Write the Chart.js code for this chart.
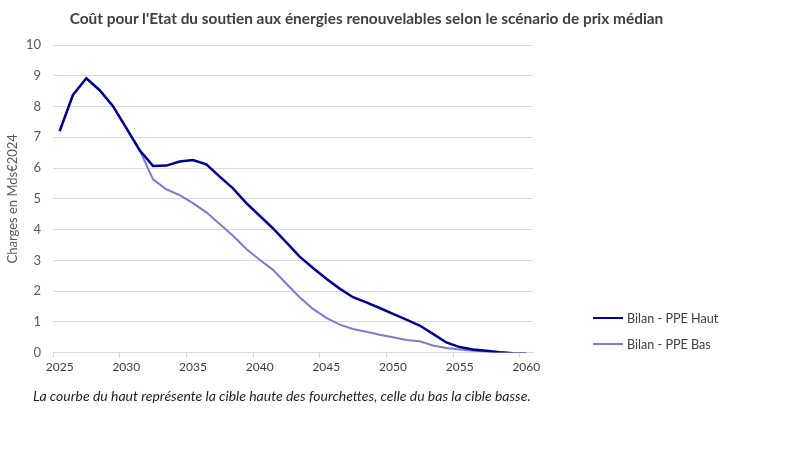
<!DOCTYPE html>
<html lang="fr">
<head>
<meta charset="utf-8">
<title>Coût du soutien aux énergies renouvelables</title>
<script src="https://cdn.jsdelivr.net/npm/chart.js@4.4.1/dist/chart.umd.min.js"></script>
<style>
  body { margin: 0; background: #fff; font-family: Lato, "Open Sans", sans-serif; }
  #cadre { position: relative; width: 800px; height: 450px; }
  #graphique { position: absolute; left: 0; top: 0; }
  #titre {
    position: absolute; left: 0; top: 9px; width: 733px; text-align: center;
    font-weight: bold; font-size: 15.4px; color: #404040;
  }
  #legende { position: absolute; left: 593px; top: 305px; margin: 0; padding: 0; list-style: none; }
  #legende li { height: 26px; display: flex; align-items: center; font-size: 12.6px; color: #404040; }
  #legende span.trait { display: inline-block; width: 30px; margin-right: 4px; }
  #note {
    position: absolute; left: 33px; top: 387px; font-style: italic;
    font-size: 14px; color: #1e1e1e;
  }
</style>
</head>
<body>
<div id="cadre">
  <canvas id="graphique" width="800" height="450"></canvas>
  <div id="titre">Coût pour l'Etat du soutien aux énergies renouvelables selon le scénario de prix médian</div>
  <ul id="legende"></ul>
  <div id="note">La courbe du haut représente la cible haute des fourchettes, celle du bas la cible basse.</div>
</div>
<script>
  // Années (axe des x)
  const annees = ['2025', '2026', '2027', '2028', '2029', '2030', '2031', '2032', '2033', '2034',
    '2035', '2036', '2037', '2038', '2039', '2040', '2041', '2042', '2043', '2044',
    '2045', '2046', '2047', '2048', '2049', '2050', '2051', '2052', '2053', '2054',
    '2055', '2056', '2057', '2058', '2059', '2060'];

  // Charges en Mds€2024
  const ppeHaut = [7.2, 8.38, 8.92, 8.53, 8.01, 7.3, 6.58, 6.07, 6.08, 6.21,
    6.26, 6.12, 5.72, 5.34, 4.86, 4.45, 4.04, 3.58, 3.12, 2.75,
    2.4, 2.08, 1.8, 1.63, 1.45, 1.26, 1.07, 0.88, 0.61, 0.33,
    0.18, 0.1, 0.06, 0.01, -0.02, -0.03];
  const ppeBas = [7.2, 8.38, 8.92, 8.53, 8.01, 7.3, 6.58, 5.63, 5.31, 5.12,
    4.86, 4.56, 4.18, 3.8, 3.37, 3.02, 2.69, 2.24, 1.8, 1.42,
    1.13, 0.91, 0.77, 0.68, 0.58, 0.5, 0.41, 0.37, 0.23, 0.15,
    0.1, 0.06, 0.03, 0.01, -0.02, -0.03];

  const ticksY = [0, 1, 2, 3, 4, 5, 6, 7, 8, 9, 10];

  const gris = '#d9d9d9';
  const police = "Lato, 'Open Sans', sans-serif";

  const ctx = document.getElementById('graphique').getContext('2d');
  const graphique = new Chart(ctx, {
    type: 'line',
    data: {
      labels: annees,
      datasets: [{
        label: 'Bilan - PPE Haut',
        data: ppeHaut,
        borderColor: '#000091',
        borderWidth: 2.5,
        pointRadius: 0,
        tension: 0
      }, {
        label: 'Bilan - PPE Bas',
        data: ppeBas,
        borderColor: '#7b7bcf',
        borderWidth: 2,
        pointRadius: 0,
        tension: 0
      }]
    },
    options: {
      responsive: false,
      animation: false,
      layout: {
        padding: { left: 5, right: 267, top: 45, bottom: 74 }
      },
      scales: {
        x: {
          offset: true,
          border: { display: true, color: gris },
          grid: {
            offset: true,
            drawOnChartArea: false,
            tickLength: 5,
            color: (c) => (c.index !== undefined && c.index % 5 === 0) ? gris : 'rgba(0,0,0,0)'
          },
          ticks: {
            autoSkip: false,
            maxRotation: 0,
            padding: 2,
            color: '#404040',
            font: { family: police, size: 12 },
            callback: function(val, i) {
              const a = annees[i];
              return Number(a) % 5 === 0 ? a : '';
            }
          }
        },
        y: {
          min: 0,
          max: 10,
          afterBuildTicks: (s) => { s.ticks = ticksY.map(v => ({ value: v })); },
          afterFit: (s) => { s.width = 48; },
          border: { display: false },
          grid: { color: gris, drawTicks: false },
          ticks: {
            padding: 12,
            color: '#595959',
            font: { family: police, size: 13 }
          },
          title: {
            display: true,
            text: 'Charges en Mds€2024',
            color: '#595959',
            font: { family: police, size: 13 },
            padding: { top: 0, bottom: 4 }
          }
        }
      },
      plugins: {
        legend: { display: false },
        tooltip: { enabled: false }
      }
    }
  });

  // Légende construite à partir des séries
  const legende = document.getElementById('legende');
  graphique.data.datasets.forEach(function(ds) {
    const li = document.createElement('li');
    const trait = document.createElement('span');
    trait.className = 'trait';
    trait.style.borderTop = ds.borderWidth + 'px solid ' + ds.borderColor;
    li.appendChild(trait);
    li.appendChild(document.createTextNode(ds.label));
    legende.appendChild(li);
  });
</script>
</body>
</html>
